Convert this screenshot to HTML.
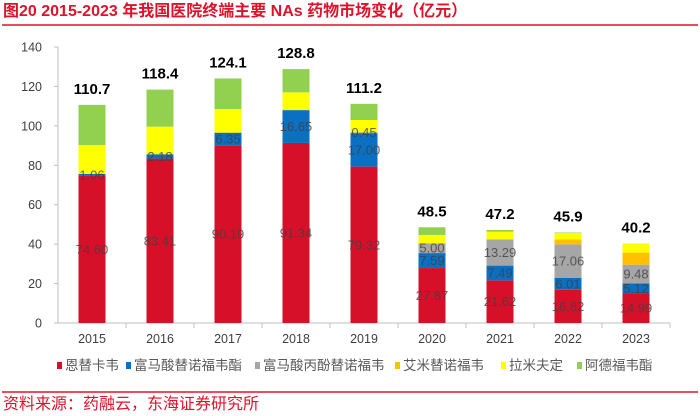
<!DOCTYPE html>
<html><head><meta charset="utf-8"><style>
body{margin:0;background:#fff;}
svg{display:block;font-family:"Liberation Sans","Noto Sans CJK SC",sans-serif;}
</style></head><body>
<svg id="chart" width="700" height="416">
<text x="3" y="16" font-size="16" font-weight="bold" fill="#e0112b">图20  2015-2023 年我国医院终端主要 NAs 药物市场变化（亿元）</text>
<line x1="2" y1="25" x2="698" y2="25" stroke="#e0112b" stroke-width="1.5"/>
<g id="axes"></g><g id="bars"></g><g id="labels"></g>
<g id="legend"></g>
<line x1="2" y1="392" x2="698" y2="392" stroke="#e0112b" stroke-width="1.5"/>
<text x="3" y="409" font-size="16" fill="#e0112b">资料来源：药融云，东海证券研究所</text>
</svg>
<script>
const categories=["2015","2016","2017","2018","2019","2020","2021","2022","2023"];
const seriesNames=["恩替卡韦","富马酸替诺福韦酯","富马酸丙酚替诺福韦","艾米替诺福韦","拉米夫定","阿德福韦酯"];
const entecavir=[74.60,83.41,90.19,91.34,79.32,27.87,21.62,16.82,14.99];
const tdf=[1.06,2.18,6.35,16.65,17.00,7.59,7.49,6.01,5.12];
const taf=[0,0,0,0,0.45,5.00,13.29,17.06,9.48];
const tmf=[0,0,0,0,0,0,0,2.5,6.1];
const lamivudine=[14.6,14.0,12.0,9.0,6.2,4.2,3.9,3.2,4.5];
const adefovir=[20.4,18.8,15.5,11.8,8.2,3.9,0.9,0.3,0.1];
const totals=["110.7","118.4","124.1","128.8","111.2","48.5","47.2","45.9","40.2"];
const shownLabels=[true,true,true,false,false,false];
const yTicks=[0,20,40,60,80,100,120,140];
const colors=["#d7102a","#0b6fc2","#a6a6a6","#ffc000","#ffff00","#92d050"];
const series=[entecavir,tdf,taf,tmf,lamivudine,adefovir];
const NS="http://www.w3.org/2000/svg";
const x0=58,x1=670,yB=323,yT=47,maxV=140;
const bw=(x1-x0)/categories.length, barW=27;
const y=v=>yB-(v/maxV)*(yB-yT);
const xc=i=>x0+bw*(i+0.5);
function mk(t,a,p){const e=document.createElementNS(NS,t);for(const k in a)e.setAttribute(k,a[k]);p.appendChild(e);return e;}
const ax=document.getElementById('axes'),bars=document.getElementById('bars'),lab=document.getElementById('labels'),lg=document.getElementById('legend');
yTicks.forEach(t=>{const e=mk('text',{x:x0-16,y:y(t)+4.5,'font-size':12.5,fill:'#404040','text-anchor':'end'},ax);e.textContent=t;


mk('line',{x1:x0-4,x2:x0,y1:y(t),y2:y(t),stroke:'#bfbfbf'},ax);});
const yl=mk('line',{x1:x0,x2:x0,y1:yT,y2:yB,stroke:'#bfbfbf'},ax);


const xl=mk('line',{x1:x0,x2:x1,y1:yB,y2:yB,stroke:'#bfbfbf'},ax);


categories.forEach((c,i)=>{
 mk('line',{x1:x0+bw*(i+1),x2:x0+bw*(i+1),y1:yB,y2:yB+5,stroke:'#bfbfbf'},ax);
 const t=mk('text',{x:xc(i),y:yB+20,'font-size':12.5,fill:'#404040','text-anchor':'middle'},ax);t.textContent=c;
 
 
 let cum=0;
 series.forEach((s,k)=>{const v=s[i];if(v<=0){return;}
  const r=mk('rect',{x:xc(i)-barW/2,y:y(cum+v),width:barW,height:y(cum)-y(cum+v),fill:colors[k]},bars);
  
  
  if(shownLabels[k]){const tt=mk('text',{x:xc(i),y:(y(cum)+y(cum+v))/2+4.5,'font-size':13,fill:'#404040','text-anchor':'middle','fill-opacity':0.8},lab);tt.textContent=v.toFixed(2);
   
   }
  cum+=v;});
 const tl=mk('text',{x:xc(i),y:y(cum)-11,'font-size':15,'font-weight':'bold',fill:'#000','text-anchor':'middle'},lab);tl.textContent=totals[i];
 
 
});
let lx=57;
const lw=[69,129,140,106,76,70];
seriesNames.forEach((n,k)=>{
 const g=mk('g',{},lg);
 
 
 mk('rect',{x:lx,y:362,width:5,height:7,fill:colors[k]},g);
 const t=mk('text',{x:lx+8,y:370,'font-size':13.5,fill:'#595959'},g);t.textContent=n;
 lx+=lw[k];
});
</script>
</body></html>
